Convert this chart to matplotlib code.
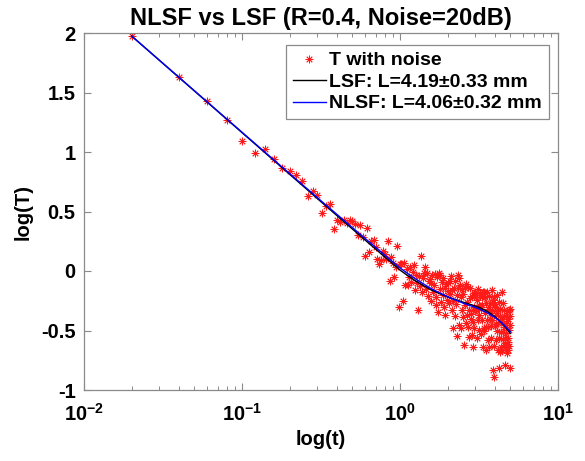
import matplotlib
matplotlib.use('Agg')
import matplotlib.pyplot as plt
from matplotlib.ticker import LogLocator, NullFormatter

plt.rcParams['font.family'] = ['Liberation Sans', 'DejaVu Sans']
plt.rcParams['font.weight'] = 'bold'
plt.rcParams['mathtext.fontset'] = 'custom'
plt.rcParams['mathtext.rm'] = 'Liberation Sans:bold'
plt.rcParams['mathtext.bf'] = 'Liberation Sans:bold'
plt.rcParams['mathtext.it'] = 'Liberation Sans:bold:italic'

# ---------------- data ----------------
t_vals = [
    0.02, 0.04, 0.06, 0.08, 0.10, 0.12, 0.14, 0.16, 0.18, 0.20,
    0.22, 0.24, 0.26, 0.28, 0.30, 0.32, 0.34, 0.36, 0.38, 0.40,
    0.42, 0.44, 0.46, 0.48, 0.50, 0.52, 0.54, 0.56, 0.58, 0.60,
    0.62, 0.64, 0.66, 0.68, 0.70, 0.72, 0.74, 0.76, 0.78, 0.80,
    0.82, 0.84, 0.86, 0.88, 0.90, 0.92, 0.94, 0.96, 0.98, 1.00,
    1.02, 1.04, 1.06, 1.08, 1.10, 1.12, 1.14, 1.16, 1.18, 1.20,
    1.22, 1.24, 1.26, 1.28, 1.30, 1.32, 1.34, 1.36, 1.38, 1.40,
    1.42, 1.44, 1.46, 1.48, 1.50, 1.52, 1.54, 1.56, 1.58, 1.60,
    1.62, 1.64, 1.66, 1.68, 1.70, 1.72, 1.74, 1.76, 1.78, 1.80,
    1.82, 1.84, 1.86, 1.88, 1.90, 1.92, 1.94, 1.96, 1.98, 2.00,
    2.02, 2.04, 2.06, 2.08, 2.10, 2.12, 2.14, 2.16, 2.18, 2.20,
    2.22, 2.24, 2.26, 2.28, 2.30, 2.32, 2.34, 2.36, 2.38, 2.40,
    2.42, 2.44, 2.46, 2.48, 2.50, 2.52, 2.54, 2.56, 2.58, 2.60,
    2.62, 2.64, 2.66, 2.68, 2.70, 2.72, 2.74, 2.76, 2.78, 2.80,
    2.82, 2.84, 2.86, 2.88, 2.90, 2.92, 2.94, 2.96, 2.98, 3.00,
    3.02, 3.04, 3.06, 3.08, 3.10, 3.12, 3.14, 3.16, 3.18, 3.20,
    3.22, 3.24, 3.26, 3.28, 3.30, 3.32, 3.34, 3.36, 3.38, 3.40,
    3.42, 3.44, 3.46, 3.48, 3.50, 3.52, 3.54, 3.56, 3.58, 3.60,
    3.62, 3.64, 3.66, 3.68, 3.70, 3.72, 3.74, 3.76, 3.78, 3.80,
    3.82, 3.84, 3.86, 3.88, 3.90, 3.92, 3.94, 3.96, 3.98, 4.00,
    4.02, 4.04, 4.06, 4.08, 4.10, 4.12, 4.14, 4.16, 4.18, 4.20,
    4.22, 4.24, 4.26, 4.28, 4.30, 4.32, 4.34, 4.36, 4.38, 4.40,
    4.42, 4.44, 4.46, 4.48, 4.50, 4.52, 4.54, 4.56, 4.58, 4.60,
    4.62, 4.64, 4.66, 4.68, 4.70, 4.72, 4.74, 4.76, 4.78, 4.80,
    4.82, 4.84, 4.86, 4.88, 4.90, 4.92, 4.94, 4.96, 4.98, 5.00,
]

logT_noisy = [
    1.975, 1.63, 1.426, 1.266, 1.092, 0.995, 1.023, 0.945, 0.866, 0.840,
    0.810, 0.754, 0.628, 0.670, 0.639, 0.487, 0.544, 0.566, 0.356, 0.432,
    0.41, 0.43, 0.40, 0.426, 0.42, 0.398, 0.30, 0.39, 0.286, 0.126,
    0.36, 0.16, 0.25, 0.26, 0.20, 0.104, 0.062, 0.09, 0.166, 0.146,
    0.10, 0.25, -0.087, 0.118, 0.07, -0.05, 0.03, 0.21, -0.30, 0.062,
    0.06, -0.255, 0.07, -0.114, 0.02, -0.12, -0.05, 0.03, -0.09, -0.01,
    0.054, -0.162, -0.03, -0.10, -0.33, -0.04, -0.13, 0.126, -0.18, -0.06,
    -0.02, 0.034, -0.15, -0.013, -0.21, -0.08, -0.064, -0.25, -0.10, -0.03,
    -0.176, -0.12, -0.022, -0.22, -0.288, -0.05, -0.345, -0.02, -0.036, -0.15,
    -0.26, -0.09, -0.20, -0.06, -0.30, -0.14, -0.37, -0.11, -0.24, -0.17,
    -0.098, -0.270, -0.087, -0.194, -0.04, -0.328, -0.160, -0.482, -0.254, -0.146,
    -0.380, -0.082, -0.274, -0.546, -0.198, -0.140, -0.036, -0.06, -0.456, -0.118,
    -0.221, -0.483, -0.148, -0.326, -0.388, -0.190, -0.622, -0.143, -0.285, -0.437,
    -0.11, -0.370, -0.262, -0.473, -0.134, -0.326, -0.558, -0.229, -0.141, -0.403,
    -0.364, -0.206, -0.537, -0.640, -0.430, -0.302, -0.183, -0.48, -0.176, -0.337,
    -0.219, -0.330, -0.562, -0.243, -0.415, -0.15, -0.288, -0.499, -0.371, -0.202,
    -0.184, -0.526, -0.318, -0.409, -0.221, -0.283, -0.635, -0.176, -0.178, -0.480,
    -0.502, -0.354, -0.215, -0.66, -0.271, -0.472, -0.414, -0.176, -0.577, -0.318,
    -0.470, -0.212, -0.304, -0.635, -0.407, -0.269, -0.561, -0.353, -0.464, -0.156,
    -0.408, -0.330, -0.246, -0.263, -0.834, -0.890, -0.218, -0.629, -0.300, -0.462,
    -0.274, -0.447, -0.579, -0.372, -0.204, -0.507, -0.339, -0.662, -0.434, -0.328,
    -0.560, -0.263, -0.815, -0.68, -0.380, -0.322, -0.515, -0.427, -0.640, -0.176,
    -0.404, -0.667, -0.269, -0.511, -0.574, -0.376, -0.62, -0.331, -0.473, -0.626,
    -0.790, -0.560, -0.452, -0.664, -0.376, -0.518, -0.69, -0.422, -0.334, -0.597,
    -0.559, -0.401, -0.66, -0.325, -0.627, -0.499, -0.381, -0.316, -0.457, -0.815,
]

fit_t = [0.02, 0.1, 0.3162, 0.631, 1.0, 1.122, 1.259, 1.413, 1.585, 1.778,
         1.995, 2.239, 2.512, 2.818, 3.162, 3.548, 3.981, 4.467, 5.0]
lsf_fit = [1.975, 1.163, 0.582, 0.236, 0.008, -0.040, -0.085, -0.125, -0.160, -0.190,
           -0.217, -0.240, -0.262, -0.283, -0.305, -0.337, -0.382, -0.445, -0.525]
nlsf_fit = [1.975, 1.166, 0.590, 0.250, 0.026, -0.022, -0.068, -0.110, -0.150, -0.184,
            -0.215, -0.243, -0.270, -0.293, -0.318, -0.350, -0.390, -0.442, -0.510]

series_labels = ['T with noise', 'LSF: L=4.19\u00b10.33 mm', 'NLSF: L=4.06\u00b10.32 mm']
title_text = 'NLSF vs LSF (R=0.4, Noise=20dB)'
x_label = 'log(t)'
y_label = 'log(T)'
x_ticks = [0.01, 0.1, 1, 10]
x_tick_labels = [r'$\mathbf{10^{-2}}$', r'$\mathbf{10^{-1}}$', r'$\mathbf{10^{0}}$', r'$\mathbf{10^{1}}$']
y_ticks = [-1, -0.5, 0, 0.5, 1, 1.5, 2]
y_tick_labels = ['-1', '-0.5', '0', '0.5', '1', '1.5', '2']

# ---------------- figure ----------------
W, H = 585, 461
fig = plt.figure(figsize=(W / 100, H / 100), dpi=100)
L, R, T, B = 84, 558, 33, 390
ax = fig.add_axes([L / W, 1 - B / H, (R - L) / W, (B - T) / H])

ax.plot(t_vals, logT_noisy, ls='none', marker=(8, 2, 0), ms=5.5, mec='#ff1a1a',
        mew=0.6, color='#ff1a1a', label=series_labels[0])
ax.plot(fit_t, lsf_fit, color='black', lw=1.0, label=series_labels[1])
ax.plot(fit_t, nlsf_fit, color='#0000ff', lw=1.0, label=series_labels[2])

ax.set_xscale('log')
ax.set_xlim(0.01, 10)
ax.set_ylim(-1, 2)
ax.set_xticks(x_ticks)
ax.set_xticklabels(x_tick_labels)
ax.xaxis.set_minor_locator(LogLocator(base=10, subs=[2, 3, 4, 5, 6, 7, 8, 9]))
ax.xaxis.set_minor_formatter(NullFormatter())
ax.set_yticks(y_ticks)
ax.set_yticklabels(y_tick_labels)

gray = '#8a8a8a'
for s in ax.spines.values():
    s.set_color(gray)
    s.set_linewidth(0.9)
ax.tick_params(which='both', direction='in', top=True, right=True, color=gray,
               labelsize=14.5, labelcolor='black')
ax.tick_params(which='major', length=5, width=0.8)
ax.tick_params(axis='y', which='major', pad=6)
ax.tick_params(axis='x', which='major', pad=9)
ax.tick_params(which='minor', length=3, width=0.7)

ax.set_title(title_text, fontsize=17, fontweight='bold', pad=6)
ax.set_xlabel(x_label, fontsize=14.5, fontweight='bold', labelpad=4)
ax.set_ylabel(y_label, fontsize=14.5, fontweight='bold', labelpad=6)

leg = ax.legend(loc='upper right', bbox_to_anchor=(1 - 9 / (R - L), 1 - 12 / (B - T)),
                borderaxespad=0, fancybox=False, framealpha=1, edgecolor=gray,
                fontsize=14, numpoints=1, handlelength=1.7, handletextpad=0.2,
                labelspacing=0.2, borderpad=0.35)
leg.get_frame().set_linewidth(0.9)
for txt in leg.get_texts():
    txt.set_fontweight('bold')

fig.savefig('out.png', dpi=100)
